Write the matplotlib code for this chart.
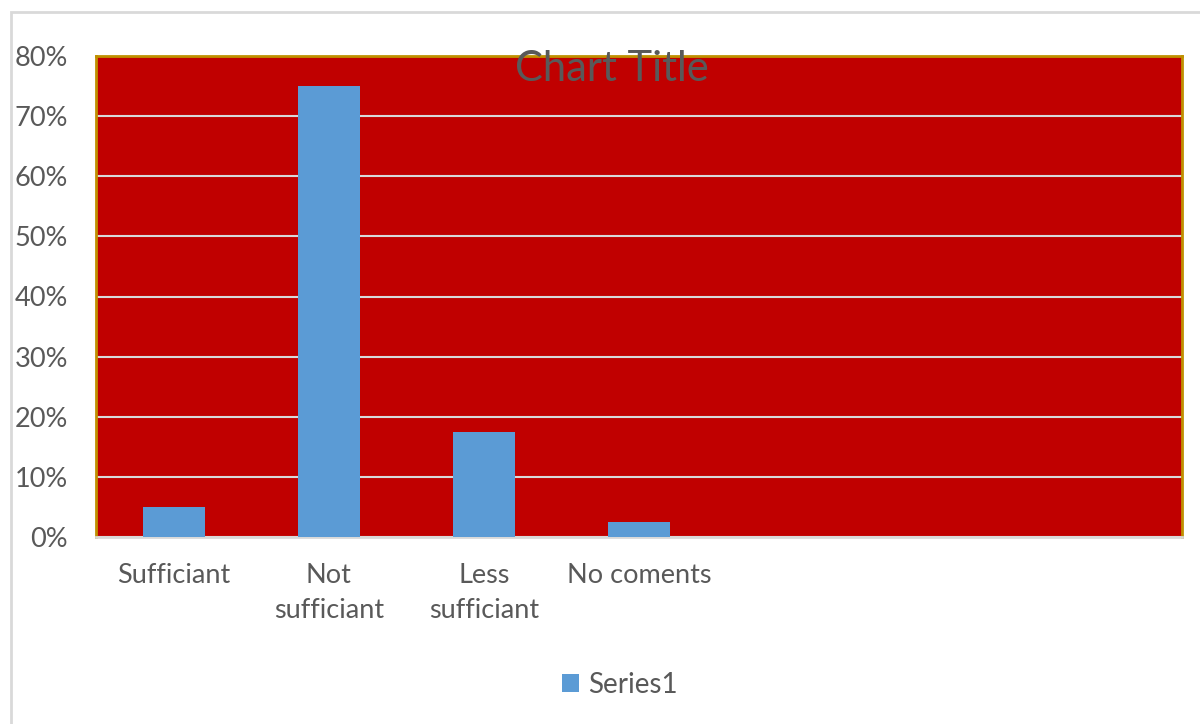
import matplotlib
matplotlib.use("Agg")
import matplotlib.pyplot as plt
from matplotlib.patches import Rectangle
from matplotlib.ticker import FuncFormatter

categories = ["Sufficiant", "Not\nsufficiant", "Less\nsufficiant", "No coments", "", "", ""]
values = [0.05, 0.75, 0.175, 0.025, None, None, None]
yticks = [0, 0.1, 0.2, 0.3, 0.4, 0.5, 0.6, 0.7, 0.8]
series_name = "Series1"

plt.rcParams['font.family'] = ['Lato', 'DejaVu Sans']
W, H = 1200, 724
fig = plt.figure(figsize=(W / 100, H / 100), dpi=100)
fig.patch.set_facecolor("white")

# outer chart frame
fig.patches.append(Rectangle((11 / W, -0.05), 1.2, (H - 12) / H + 0.05, transform=fig.transFigure,
                             fill=False, edgecolor="#D9D9D9", linewidth=2, clip_on=False))

ax = fig.add_axes([96 / W, (H - 537) / H, (1182 - 96) / W, (537 - 56) / H])
ax.set_facecolor("#C00000")

xs = list(range(len(categories)))
bar_x = [x for x, v in zip(xs, values) if v is not None]
bar_v = [v for v in values if v is not None]
bars = ax.bar(bar_x, bar_v, width=0.4, color="#5B9BD5", zorder=3, label=series_name)

ax.set_xlim(-0.5, len(categories) - 0.5)
ax.set_ylim(0, 0.8)
ax.set_yticks(yticks)
ax.yaxis.set_major_formatter(FuncFormatter(lambda v, p: f"{v*100:.0f}%"))
ax.set_xticks(xs)
ax.set_xticklabels(categories, linespacing=1.5)

ax.grid(axis="y", color="#D9D9D9", linewidth=1.5, zorder=1)
ax.set_axisbelow(True)
ax.tick_params(axis="both", length=0, labelsize=19.5, colors="#595959")
ax.tick_params(axis="y", pad=20)
ax.tick_params(axis="x", pad=19)

for s in ["top", "left", "right"]:
    ax.spines[s].set_color("#BF9000")
    ax.spines[s].set_linewidth(2)
ax.spines["bottom"].set_color("#D9D9D9")
ax.spines["bottom"].set_linewidth(2)

fig.text(612 / W, 1 - 69 / H, "Chart Title", ha="center", va="center",
         fontsize=30, color="#595959")

leg = fig.legend(handles=[bars], labels=[series_name], loc="center",
                 bbox_to_anchor=(620 / W, 1 - 685 / H), frameon=False,
                 fontsize=20, handlelength=0.6, handleheight=0.6, handletextpad=0.35,
                 labelcolor="#595959")

fig.savefig("out.png", dpi=100)
